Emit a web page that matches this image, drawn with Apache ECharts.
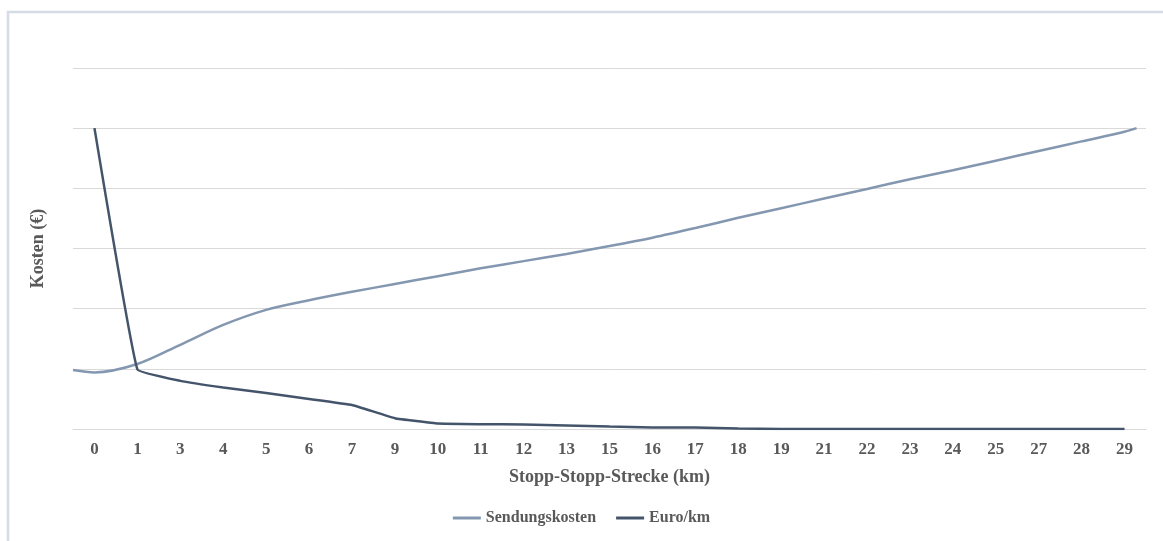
<!DOCTYPE html>
<html>
<head>
<meta charset="utf-8">
<script src="https://cdn.jsdelivr.net/npm/echarts@6/dist/echarts.min.js"></script>
<style>
html,body{margin:0;padding:0;background:#fff;}
#chart{width:1163px;height:541px;}
</style>
</head>
<body>
<div id="chart"></div>
<script>
// Category labels (Stopp-Stopp-Strecke, km)
const categories = ['0','1','3','4','5','6','7','9','10','11','12','13','15','16','17','18','19','21','22','23','24','25','27','28','29'];
// Euro/km per category
const euroPerKm = [5.0, 0.99, 0.80, 0.69, 0.60, 0.50, 0.40, 0.18, 0.09, 0.08, 0.075, 0.06, 0.04, 0.025, 0.025, 0.01, 0.0, 0.0, 0.0, 0.0, 0.0, 0.0, 0.0, 0.0, 0.0];
// Sendungskosten curve: position along the axis (category index units) and value
const sendPos = [-0.5, 0, 1, 2, 3, 4, 5, 6, 7, 8, 9, 10, 11, 12, 13, 14, 15, 16, 17, 18, 19, 20, 21, 22, 23, 24, 24.28];
const sendungskosten = [0.98, 0.94, 1.08, 1.40, 1.73, 1.98, 2.14, 2.28, 2.41, 2.54, 2.67, 2.79, 2.91, 3.04, 3.18, 3.34, 3.51, 3.67, 3.83, 3.99, 4.15, 4.30, 4.46, 4.62, 4.78, 4.94, 5.0];

const textColor = '#595959';
const fontFam = '"Liberation Serif", "Times New Roman", serif';
const chart = echarts.init(document.getElementById('chart'));
chart.setOption({
  backgroundColor: '#ffffff',
  animation: false,
  graphic: [{
    type: 'rect',
    shape: { x: 8, y: 12, width: 1170, height: 560 },
    style: { fill: 'none', stroke: '#d6dce5', lineWidth: 2.5 },
    silent: true
  }],
  grid: { left: 73, right: 17, top: 68, bottom: 112 },
  legend: {
    bottom: 10,
    left: 'center',
    itemWidth: 28,
    itemHeight: 3,
    itemGap: 20,
    textStyle: { color: textColor, fontFamily: fontFam, fontWeight: 'bold', fontSize: 16 },
    data: [
      { name: 'Sendungskosten', icon: 'rect' },
      { name: 'Euro/km', icon: 'rect' }
    ]
  },
  xAxis: [{
    type: 'category',
    data: categories,
    boundaryGap: true,
    axisLine: { lineStyle: { color: '#d9d9d9', width: 1 } },
    axisTick: { show: false },
    axisLabel: { color: textColor, fontFamily: fontFam, fontWeight: 'bold', fontSize: 17, margin: 12, interval: 0 },
    name: 'Stopp-Stopp-Strecke (km)',
    nameLocation: 'middle',
    nameGap: 39,
    nameTextStyle: { color: textColor, fontFamily: fontFam, fontWeight: 'bold', fontSize: 18 }
  }, {
    type: 'value',
    min: -0.5,
    max: 24.5,
    show: false
  }],
  yAxis: {
    type: 'value',
    min: 0,
    max: 6,
    interval: 1,
    axisLabel: { show: false },
    axisLine: { show: false },
    axisTick: { show: false },
    splitLine: { lineStyle: { color: '#d9d9d9', width: 1 } },
    name: 'Kosten (€)',
    nameLocation: 'middle',
    nameGap: 26,
    nameRotate: 90,
    nameTextStyle: { color: textColor, fontFamily: fontFam, fontWeight: 'bold', fontSize: 18 }
  },
  series: [{
    name: 'Sendungskosten',
    type: 'line',
    xAxisIndex: 1,
    data: sendPos.map((p, i) => [p, sendungskosten[i]]),
    smooth: 0.3,
    showSymbol: false,
    lineStyle: { color: '#8497b0', width: 2.5 },
    itemStyle: { color: '#8497b0' }
  }, {
    name: 'Euro/km',
    type: 'line',
    xAxisIndex: 0,
    data: euroPerKm,
    smooth: 0.08,
    showSymbol: false,
    lineStyle: { color: '#44546a', width: 2.5 },
    itemStyle: { color: '#44546a' }
  }]
});
</script>
</body>
</html>
